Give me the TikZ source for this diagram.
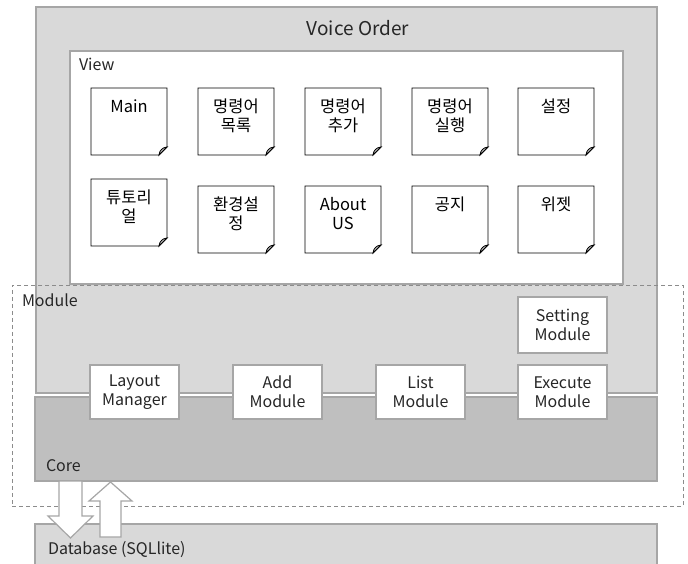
\documentclass[tikz,border=0pt]{standalone}
\usepackage{fontspec}
\usetikzlibrary{calc}
\setmainfont{Noto Sans CJK KR}
\definecolor{lg}{HTML}{D9D9D9}
\definecolor{dg}{HTML}{BFBFBF}
\definecolor{bd}{HTML}{A6A6A6}
\definecolor{dsh}{HTML}{8C8C8C}
\definecolor{tx}{HTML}{262626}
\newcommand\memo[4]{%
  \draw[notebd] (#2,#3) -- ++(76,0) -- ++(0,59) -- ++(-8,8) -- ++(-68,0) -- cycle;
  \filldraw[notebd, fill=gray!45] (#2+68,#3+67) .. controls (#2+69,#3+63) .. (#2+70.5,#3+61.5) .. controls (#2+72,#3+60) .. (#2+76,#3+59) -- cycle;
  \node[notetext] (#1) at (#2+38,#3+11) {\rule{0pt}{13.5pt}#4};
}
\begin{document}
\begin{tikzpicture}[x=1pt,y=-1pt,
  every node/.style={text=tx, font=\fontsize{16}{19}\selectfont, outer sep=0pt},
  graybox/.style={draw=bd, line width=1.5pt, inner sep=0pt, anchor=north west},
  modbox/.style={draw=bd, line width=1.5pt, fill=white, minimum width=89pt, minimum height=54pt, anchor=north west, align=center, inner sep=0pt},
  notebd/.style={draw=black, line width=0.8pt, fill=white, line join=miter},
  notetext/.style={anchor=north, align=center, inner sep=0pt, text=black, font=\fontsize{16.5}{19}\selectfont},
  lbl/.style={anchor=base west, inner sep=0pt},
  blockarrow/.style={draw=bd, line width=1.2pt, fill=white, line join=miter},
]
\useasboundingbox (0,0) rectangle (688,564);
% layers
\node[graybox, fill=lg, minimum width=621pt, minimum height=386pt] (voice) at (36,7) {};
\node[graybox, fill=dg, minimum width=622pt, minimum height=84pt] (core) at (35,397) {};
\node[graybox, fill=lg, minimum width=622pt, minimum height=60pt] (db) at (35,524) {};
\node[draw=dsh, dash pattern=on 4pt off 3pt, line width=1pt, minimum width=671pt, minimum height=221pt, anchor=north west, inner sep=0pt] (module) at (12,285) {};
\node[graybox, fill=white, minimum width=553pt, minimum height=233pt] (view) at (70,51) {};
% view notes
\memo{main}{91}{88}{Main}
\memo{cmdlist}{198}{88}{명령어\\목록}
\memo{cmdadd}{305}{88}{명령어\\추가}
\memo{cmdrun}{412}{88}{명령어\\실행}
\memo{settings}{518}{88}{설정}
\memo{tutorial}{91}{179}{튜토리\\얼}
\memo{envset}{198}{186}{환경설\\정}
\memo{about}{305}{186}{About\\US}
\memo{notice}{412}{186}{공지}
\memo{widget}{518}{186}{위젯}
% modules
\node[modbox] (layout) at (90,365) {Layout\\Manager};
\node[modbox] (add) at (233,365) {Add\\Module};
\node[modbox] (list) at (376,365) {List\\Module};
\node[modbox] (exec) at (518,365) {Execute\\Module};
\node[modbox, minimum height=56pt] (setting) at (518,297) {Setting\\Module};
% arrows between core and database
\coordinate (downtop) at (70.5,481);
\coordinate (uptip) at (110.5,482);
\draw[blockarrow] ($(downtop)+(-11.5,0)$) -- ++(23,0) -- ++(0,35) -- ++(11,0) -- ++(-22.5,22) -- ++(-22.5,-22) -- ++(11,0) -- cycle;
\draw[blockarrow] (uptip) -- ++(21.5,19) -- ++(-11,0) -- ++(0,36) -- ++(-21,0) -- ++(0,-36) -- ++(-11,0) -- cycle;
% labels
\node[anchor=base, inner sep=0pt, font=\fontsize{19}{22}\selectfont] (title) at (358,36) {Voice Order};
\node[lbl] (viewlbl) at (79,71) {View};
\node[lbl] (modlbl) at (22,306) {Module};
\node[lbl] (corelbl) at (46,471) {Core};
\node[lbl] (dblbl) at (48,554) {Database (SQLlite)};
\end{tikzpicture}
\end{document}
